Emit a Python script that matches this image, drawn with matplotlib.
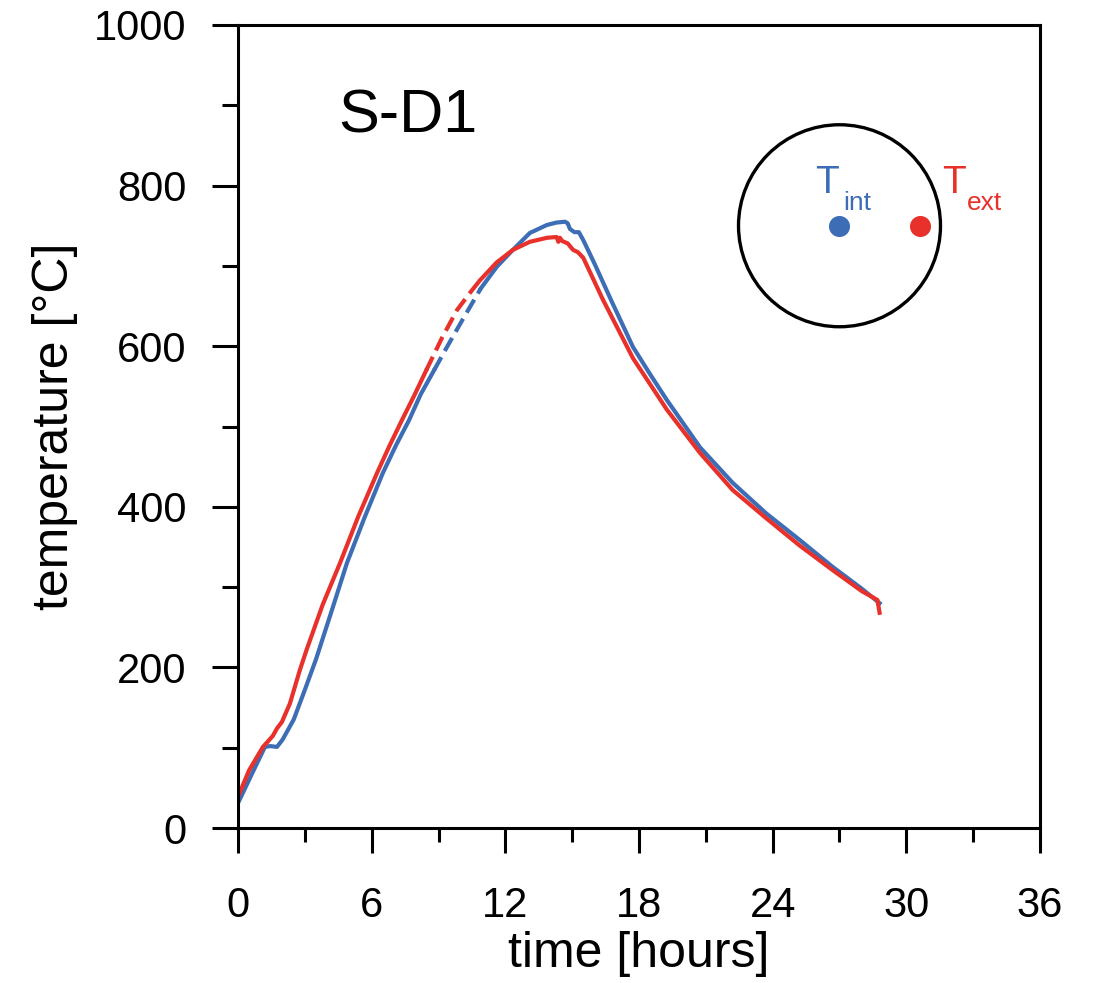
import matplotlib
matplotlib.use("Agg")
import matplotlib.pyplot as plt
from matplotlib.patches import Ellipse

plt.rcParams['font.family'] = ['Liberation Sans', 'DejaVu Sans']

# T_int (blue): solid rise, dashed gap, solid rest
t_int_rise = [0, 0.6, 1.21, 1.45, 1.75, 2.0, 2.5, 3.0, 3.5, 4.2, 4.89, 5.7, 6.5, 7.1, 7.68, 8.2, 8.8]
T_int_rise = [31, 66, 101, 102, 101, 110, 135, 172, 210, 270, 330, 388, 442, 477, 508, 540, 570]
t_int_gap = [8.8, 9.4, 10.1, 10.9]
T_int_gap = [570, 600, 634, 672]
t_int_rest = [10.9, 11.62, 12.34, 13.1, 13.87, 14.3, 14.68, 14.8, 14.9, 15.0, 15.1, 15.3, 15.5,
              16.0, 16.77, 17.73, 18.5, 19.25, 20.74, 22.2, 23.7, 25.2, 26.7, 28.0, 28.8]
T_int_rest = [672, 699, 720, 741, 751, 754, 755, 753, 746, 744, 742, 742, 732,
              703, 656, 599, 565, 533, 474, 430, 392, 359, 325, 298, 280]

# T_ext (red)
t_ext_rise = [0, 0.5, 1.12, 1.35, 1.57, 1.75, 1.97, 2.33, 2.78, 3.08, 3.8, 4.58, 5.4, 6.24, 6.8, 7.36, 7.9, 8.45]
T_ext_rise = [39, 72, 101, 108, 115, 124, 132, 155, 197, 222, 278, 330, 388, 442, 476, 508, 538, 570]
t_ext_gap = [8.45, 9.15, 9.83, 10.4, 10.86]
T_ext_gap = [570, 610, 645, 666, 682]
t_ext_rest = [10.86, 11.6, 12.34, 13.1, 13.87, 14.3, 14.38, 14.45, 14.55, 14.8, 15.04, 15.26, 15.5,
              16.38, 17.73, 19.25, 20.74, 22.2, 23.7, 25.2, 26.7, 28.0, 28.7, 28.75, 28.8]
T_ext_rest = [682, 704, 720, 730, 735, 736, 730, 735, 731, 728, 720, 717, 710,
              658, 585, 521, 467, 421, 386, 352, 321, 295, 284, 276, 268]

xticks = [0, 6, 12, 18, 24, 30, 36]
yticks = [0, 200, 400, 600, 800, 1000]

blue = '#3D6DB5'
red = '#E8312A'

fig = plt.figure(figsize=(10.97, 9.83), dpi=100)
ax = fig.add_axes([238 / 1097, 1 - 828 / 983, 802 / 1097, 803 / 983])

lw = 3.0
dash = (3.6, 1.7)
ax.plot(t_int_rise, T_int_rise, color=blue, lw=lw)
ax.plot(t_int_gap, T_int_gap, color=blue, lw=lw, dashes=dash)
ax.plot(t_int_rest, T_int_rest, color=blue, lw=lw)
ax.plot(t_ext_rise, T_ext_rise, color=red, lw=lw)
ax.plot(t_ext_gap, T_ext_gap, color=red, lw=lw, dashes=dash)
ax.plot(t_ext_rest, T_ext_rest, color=red, lw=lw)

ax.set_xlim(0, 36)
ax.set_ylim(0, 1000)
ax.set_xticks(xticks)
ax.set_xticks(range(3, 36, 6), minor=True)
ax.set_yticks(yticks)
ax.set_yticks(range(100, 1000, 200), minor=True)
ax.tick_params(which='both', direction='out', width=2.2, labelsize=30)
ax.tick_params(axis='x', which='major', length=18, pad=24)
ax.tick_params(axis='x', which='minor', length=10)
ax.tick_params(axis='y', which='major', length=19, pad=18)
ax.tick_params(axis='y', which='minor', length=11.5)
for s in ax.spines.values():
    s.set_linewidth(2.2)

ax.set_xlabel('time [hours]', fontsize=36)
ax.set_ylabel('temperature [°C]', fontsize=36)
ax.xaxis.set_label_coords(0.5, -0.128)
ax.yaxis.set_label_coords(-0.2, 0.5)

ax.text(4.5, 866, 'S-D1', fontsize=44, ha='left', va='baseline')

# sample cross-section inset
ax.add_patch(Ellipse((27, 750), width=2 * 101 / 22.28, height=2 * 101 / 0.803,
                     fill=False, edgecolor='black', lw=2.4))
ax.scatter([27], [750], s=200, color=blue, zorder=5)
ax.scatter([30.6], [750], s=200, color=red, zorder=5)
ax.text(25.9, 791, 'T', color=blue, fontsize=28, ha='left', va='baseline')
ax.text(27.15, 770, 'int', color=blue, fontsize=19, ha='left', va='baseline')
ax.text(31.6, 791, 'T', color=red, fontsize=28, ha='left', va='baseline')
ax.text(32.72, 770, 'ext', color=red, fontsize=19, ha='left', va='baseline')

fig.savefig('out.png', dpi=100)
